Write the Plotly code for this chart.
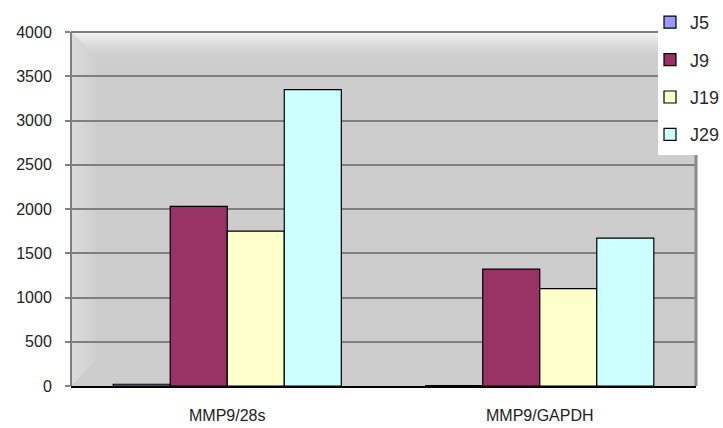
import plotly.graph_objects as go

# Expression ratios by sample group
categories = ["MMP9/28s", "MMP9/GAPDH"]
series_names = ["J5", "J9", "J19", "J29"]
j5 = [20, 5]
j9 = [2030, 1320]
j19 = [1750, 1100]
j29 = [3350, 1670]
series_values = [j5, j9, j19, j29]
series_colors = ["#9999FF", "#993366", "#FFFFCC", "#CCFFFF"]
y_ticks = [0, 500, 1000, 1500, 2000, 2500, 3000, 3500, 4000]

fig = go.Figure()
for name, vals, col in zip(series_names, series_values, series_colors):
    fig.add_trace(go.Bar(
        x=categories, y=vals, name=name, legendgroup=name,
        marker=dict(color=col, line=dict(color="#000000", width=1.2)),
    ))

# plot-area geometry in pixels, used to place the decorative shapes
W, H = 723, 428
L, R, T, B = 71, 27, 32, 42
pw, ph = W - L - R, H - T - B


def px_x(v):
    return (v - L) / pw


def px_y(v):
    return 1 - (v - T) / ph


shapes = []
# lighter band along the top wall, mitered into the left wall
steps = 14
for i in range(steps):
    a = 0.75 * ((steps - i) / steps) ** 1.6
    d0, d1 = 2 * i, 2 * (i + 1)
    shapes.append(dict(type="path", xref="paper", yref="paper",
                       path="M %f %f L %f %f L %f %f L %f %f Z" % (
                           px_x(L + d0), px_y(T + d0), 1, px_y(T + d0),
                           1, px_y(T + d1), px_x(L + d1), px_y(T + d1)),
                       fillcolor="rgba(255,255,255,%.3f)" % a, line=dict(width=0), layer="below"))
# lighter strip on the left wall
for i in range(steps):
    a = 0.28 * (steps - i) / steps
    d0, d1 = 2 * i, 2 * (i + 1)
    shapes.append(dict(type="path", xref="paper", yref="paper",
                       path="M %f %f L %f %f L %f %f L %f %f Z" % (
                           px_x(L + d0), px_y(T + d0), px_x(L + d1), px_y(T + d1),
                           px_x(L + d1), px_y(T + ph - d1), px_x(L + d0), px_y(T + ph - d0)),
                       fillcolor="rgba(255,255,255,%.3f)" % a, line=dict(width=0), layer="below"))
# frame lines
shapes.append(dict(type="line", xref="paper", yref="paper", x0=0, x1=1, y0=1, y1=1,
                   line=dict(color="#7F7F7F", width=2)))
shapes.append(dict(type="line", xref="paper", yref="paper", x0=0, x1=0, y0=0, y1=1,
                   line=dict(color="#7F7F7F", width=2)))
shapes.append(dict(type="line", xref="paper", yref="paper", x0=1, x1=1, y0=0, y1=1,
                   line=dict(color="#8A8A8A", width=3)))
# white legend panel in the top-right corner
shapes.append(dict(type="rect", xref="paper", yref="paper",
                   x0=px_x(658), x1=px_x(W), y0=px_y(155), y1=px_y(0),
                   fillcolor="#FFFFFF", line=dict(width=0), layer="above"))

fig.update_layout(
    width=W, height=H,
    margin=dict(l=L, r=R, t=T, b=B, autoexpand=False),
    paper_bgcolor="#FFFFFF",
    plot_bgcolor="#CDCDCD",
    barmode="group",
    bargap=0.27,
    bargroupgap=0,
    shapes=shapes,
    font=dict(family="Liberation Sans, Arial, sans-serif", color="#222222", size=16),
    legend=dict(
        xref="container", yref="container",
        x=650 / W, xanchor="left", y=1 - 4 / H, yanchor="top",
        bgcolor="rgba(0,0,0,0)", borderwidth=0,
        font=dict(size=18, color="#2A2A2A"),
        traceorder="grouped", tracegroupgap=11,
        itemwidth=30,
    ),
    xaxis=dict(
        showgrid=False, showline=True, linecolor="#000000", linewidth=1.5,
        ticks="", tickfont=dict(size=16), ticklabelstandoff=14,
    ),
    yaxis=dict(
        range=[0, 4000], tickvals=y_ticks, ticktext=[str(v) for v in y_ticks],
        showgrid=True, gridcolor="#7F7F7F", gridwidth=1.8,
        zeroline=False, showline=False,
        ticks="outside", ticklen=5, tickcolor="#7F7F7F", tickwidth=1.5,
        tickfont=dict(size=16), ticklabelstandoff=10,
    ),
)

fig.write_html("out.html")
